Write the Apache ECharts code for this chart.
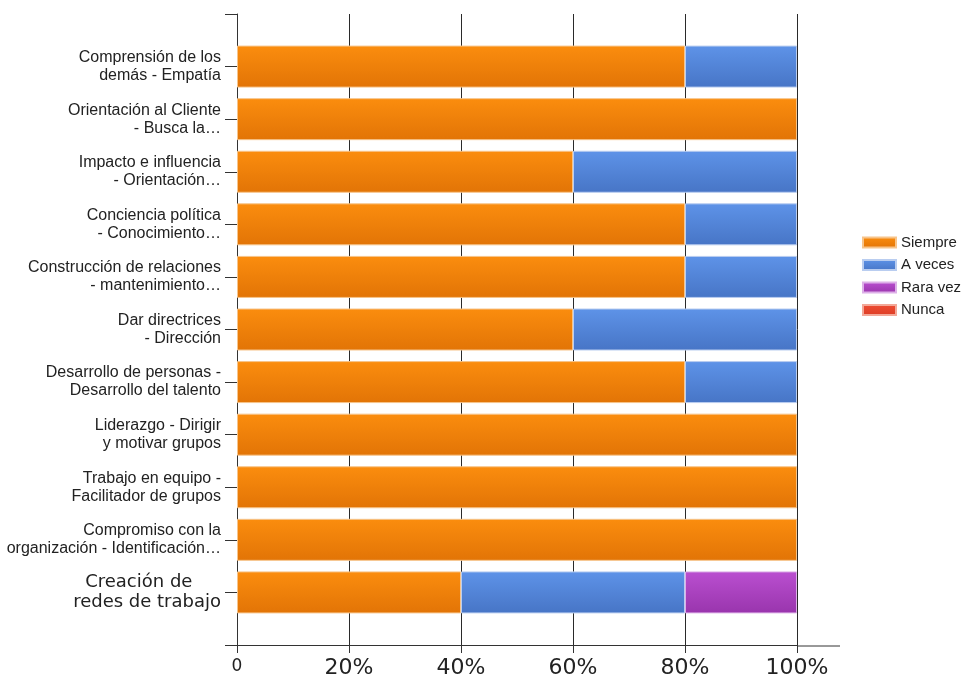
<!DOCTYPE html>
<html>
<head>
<meta charset="utf-8">
<script src="https://cdn.jsdelivr.net/npm/echarts@6/dist/echarts.min.js"></script>
<style>html,body{margin:0;padding:0;background:#fff}#c{width:964px;height:679px}</style>
</head>
<body>
<div id="c"></div>
<script>
var categories = [
  "Comprensión de los\ndemás - Empatía",
  "Orientación al Cliente\n- Busca la…",
  "Impacto e influencia\n- Orientación…",
  "Conciencia política\n- Conocimiento…",
  "Construcción de relaciones\n- mantenimiento…",
  "Dar directrices\n- Dirección",
  "Desarrollo de personas -\nDesarrollo del talento",
  "Liderazgo - Dirigir\ny motivar grupos",
  "Trabajo en equipo -\nFacilitador de grupos",
  "Compromiso con la\norganización - Identificación…",
  "Creación de\nredes de trabajo"
];
var siempre = [80, 100, 60, 80, 80, 60, 80, 100, 100, 100, 40];
var aVeces  = [20, 0, 40, 20, 20, 40, 20, 0, 0, 0, 40];
var raraVez = [0, 0, 0, 0, 0, 0, 0, 0, 0, 0, 20];
var nunca   = [0, 0, 0, 0, 0, 0, 0, 0, 0, 0, 0];
var seriesNames = ["Siempre", "A veces", "Rara vez", "Nunca"];
var xTicks = [0, 20, 40, 60, 80, 100];

function grad(top, bottom) {
  return new echarts.graphic.LinearGradient(0, 0, 0, 1, [
    {offset: 0, color: top}, {offset: 1, color: bottom}
  ]);
}
var colors = [
  grad('#fb8d0e', '#e27406'),
  grad('#5e93e8', '#4775c6'),
  grad('#ba4fd0', '#9935ad'),
  grad('#ee4d34', '#dc3d25')
];
var borders = ['#f7c48a', '#b9cdf0', '#ddb0e8', '#f3a898'];

var yData = [''].concat(categories).concat(['']);
function pad(arr) { return [null].concat(arr.map(function(v){ return v === 0 ? null : v; })).concat([null]); }
var allVals = [siempre, aVeces, raraVez, nunca];

var chart = echarts.init(document.getElementById('c'));
chart.setOption({
  animation: false,
  backgroundColor: '#fff',
  grid: {left: 237, right: 167, top: 14, bottom: 33, containLabel: false},
  legend: {
    orient: 'vertical',
    left: 857,
    top: 229,
    itemWidth: 33,
    itemHeight: 10,
    itemGap: 5.5,
    icon: 'rect',
    data: seriesNames,
    textStyle: {fontFamily: 'Liberation Sans', fontSize: 15, lineHeight: 17, color: '#222'}
  },
  xAxis: {
    type: 'value',
    min: 0, max: 100, interval: 20,
    axisLine: {show: true, lineStyle: {color: '#333', width: 1}},
    axisTick: {show: true, length: 8, lineStyle: {color: '#333'}},
    splitLine: {show: true, lineStyle: {color: '#2a2a2a', width: 1}},
    axisLabel: {
      margin: 12,
      fontFamily: 'DejaVu Sans',
      fontSize: 22,
      color: '#222',
      verticalAlign: 'top',
      formatter: function (v) { return v === 0 ? '{z|0}' : v + '%'; },
      rich: {z: {fontFamily: 'DejaVu Sans', fontSize: 17, color: '#222', verticalAlign: 'top', padding: [1, 0, 0, 0]}}
    }
  },
  yAxis: {
    type: 'category',
    inverse: true,
    boundaryGap: false,
    data: yData,
    axisLine: {show: true, lineStyle: {color: '#333', width: 1}},
    axisTick: {show: true, length: 12, interval: 0, lineStyle: {color: '#333'}},
    splitLine: {show: false},
    axisLabel: {
      interval: 0,
      margin: 16,
      fontFamily: 'Liberation Sans',
      fontSize: 16,
      lineHeight: 18,
      color: '#222',
      align: 'right',
      formatter: function (v) {
        if (v === categories[categories.length - 1]) {
          var p = v.split('\n');
          return '{big|' + p[0] + '\u00a0\u00a0\u00a0\u00a0\u00a0}\n{big|' + p[1] + '}';
        }
        return v;
      },
      rich: {big: {fontFamily: 'DejaVu Sans', fontSize: 18, lineHeight: 20, color: '#222'}}
    }
  },
  graphic: [{
    type: 'line',
    shape: {x1: 797, y1: 646, x2: 840, y2: 646},
    style: {stroke: '#333', lineWidth: 1},
    silent: true
  }],
  series: seriesNames.map(function (name, i) {
    return {
      name: name,
      type: 'bar',
      stack: 'total',
      barWidth: 42,
      z: 3,
      itemStyle: {color: colors[i], borderColor: borders[i], borderWidth: 1},
      data: pad(allVals[i])
    };
  })
});
</script>
</body>
</html>
